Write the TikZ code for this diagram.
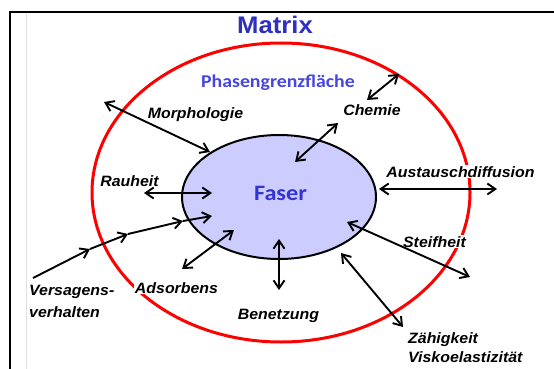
\documentclass[tikz,border=0pt]{standalone}
\usepackage{fontspec}
\newfontfamily\labfont{Liberation Sans}[FakeStretch=1.06]
\newfontfamily\titfont{Liberation Sans}[FakeStretch=1.07]
\newfontfamily\calfont{Carlito}[FakeStretch=1.1]
\usetikzlibrary{arrows.meta,shapes.geometric}
\definecolor{matrixblue}{HTML}{2F2FC4}
\definecolor{phblue}{HTML}{4646DE}
\definecolor{faserblue}{HTML}{3434D2}
\definecolor{faserfill}{HTML}{CCCCFF}
\definecolor{ringred}{HTML}{FF0000}
\begin{document}
\begin{tikzpicture}[x=1pt,y=-1pt,
  lab/.style={font=\labfont\bfseries\itshape\fontsize{15}{18}\selectfont, fill=white, inner sep=1pt, anchor=base},
  labw/.style={lab, anchor=base west},
  arr/.style={line width=1.9pt, {Straight Barb[length=8pt,width=11pt]}-{Straight Barb[length=8pt,width=11pt]}},
  onearr/.style={line width=1.9pt, -{Straight Barb[length=8pt,width=11pt]}}]
\useasboundingbox (0,0) rectangle (554,369);
\clip (0,0) rectangle (554,369);
% frame
\draw[line width=2.5pt] (10,380) -- (10,12) -- (570,12);
\draw[black!12, line width=1pt] (26.7,13.5) -- (26.7,380);
% interphase ring
\draw[ringred, line width=3pt] (281,192.5) ellipse [x radius=189pt, y radius=149.5pt];
% fibre
\node[ellipse, draw, line width=2pt, fill=faserfill, minimum width=194pt, minimum height=124pt, inner sep=0pt] (faser) at (279,197) {};
% titles
\node[font=\titfont\bfseries\fontsize{24}{28}\selectfont, text=matrixblue, anchor=base] (matrix) at (275,34) {Matrix};
\node[font=\calfont\bfseries\fontsize{18}{20}\selectfont, text=phblue, anchor=base] (phase) at (278,87) {Phasengrenzfläche};
\node[font=\calfont\bfseries\fontsize{22}{24}\selectfont, text=faserblue, anchor=base] (fasertext) at (280.5,200) {Faser};
% labels
\node[lab] (morph) at (195.5,118) {Morphologie};
\node[lab] (chemie) at (372,115) {Chemie};
\node[lab] (rauheit) at (129.5,186) {Rauheit};
\node[lab] (austausch) at (460.5,177) {Austauschdiffusion};
\node[lab] (steif) at (434.5,247) {Steifheit};
\node[lab] (adsorb) at (176.5,293) {Adsorbens};
\node[lab] (benetz) at (278.5,319) {Benetzung};
\node[labw] (vers1) at (28,295) {Versagens-};
\node[labw] (vers2) at (28,317) {verhalten};
\node[labw] (zaeh) at (407,343) {Zähigkeit};
\node[labw] (visko) at (407,362) {Viskoelastizität};
% arrow end points
\coordinate (m1) at (104,102);  \coordinate (m2) at (210,152);
\coordinate (c1) at (367,100);  \coordinate (c2) at (399,74);
\coordinate (c3) at (295,162);  \coordinate (c4) at (338,123);
\coordinate (r1) at (144,193);  \coordinate (r2) at (212,193);
\coordinate (a1) at (379,189);  \coordinate (a2) at (497,189);
\coordinate (s1) at (347,222);  \coordinate (s2) at (470,277);
\coordinate (d1) at (182,269);  \coordinate (d2) at (234,230);
\coordinate (b1) at (279,239);  \coordinate (b2) at (279,290);
\coordinate (z1) at (341,253);  \coordinate (z2) at (403,327);
\coordinate (v0) at (33,278);   \coordinate (v1) at (90,249);
\coordinate (v2) at (128,234);  \coordinate (v3) at (183,221);
\coordinate (v4) at (212,216);
% arrows
\draw[arr] (m1) -- (m2);
\draw[arr] (c1) -- (c2);
\draw[arr] (c3) -- (c4);
\draw[arr] (r1) -- (r2);
\draw[arr] (a1) -- (a2);
\draw[arr] (s1) -- (s2);
\draw[arr] (d1) -- (d2);
\draw[arr] (b1) -- (b2);
\draw[arr] (z1) -- (z2);
\draw[onearr] (v0) -- (v1);
\draw[onearr] (v1) -- (v2);
\draw[onearr] (v2) -- (v3);
\draw[onearr] (v3) -- (v4);
\end{tikzpicture}
\end{document}
